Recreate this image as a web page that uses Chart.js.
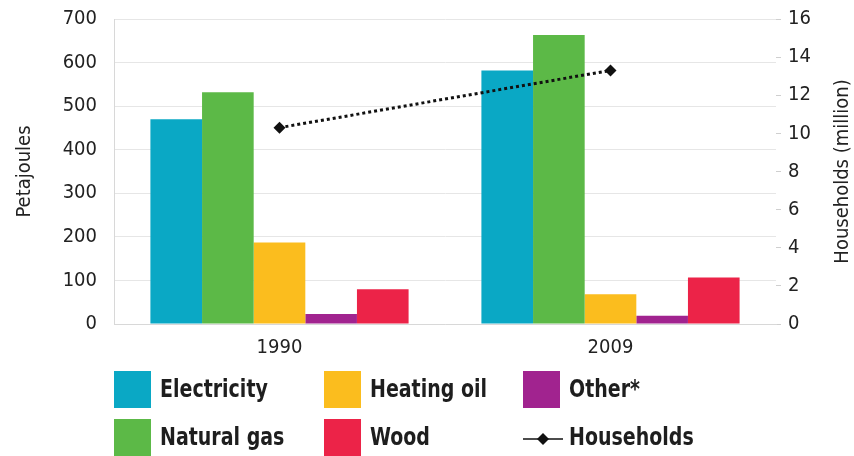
<!DOCTYPE html>
<html>
<head>
<meta charset="utf-8">
<script src="https://cdn.jsdelivr.net/npm/chart.js@4.4.1/dist/chart.umd.min.js"></script>
<style>
  html, body { margin: 0; padding: 0; background: #fff; }
  #wrap { position: relative; width: 854px; height: 456px; overflow: hidden; }
  #c { position: absolute; left: 0; top: 0; }
  .lg-item { position: absolute; height: 38px; }
  .lg-swatch { position: absolute; left: 0; top: 0; width: 37px; height: 37px; }
  .lg-line { position: absolute; left: 0; top: 0; width: 40px; height: 37px; }
  .lg-text {
    position: absolute; left: 46px; top: 0; line-height: 37px; white-space: nowrap;
    font-family: 'Liberation Sans Narrow', 'DejaVu Sans Condensed', 'Liberation Sans', sans-serif;
    font-weight: bold; font-size: 24px; color: #1e1e1e;
    transform: scaleX(0.88); transform-origin: 0 50%;
  }
</style>
</head>
<body>
<div id="wrap">
  <canvas id="c" width="854" height="456"></canvas>
  <div id="legend"></div>
</div>
<script>
// Household energy use by source (petajoules) and number of households (million)
const years = ['1990', '2009'];
const electricity = [470, 582];
const naturalGas = [532, 663];
const heatingOil = [187, 68];
const other = [23, 19];
const wood = [80, 107];
const households = [10.3, 13.3];

const energyTicks = [0, 100, 200, 300, 400, 500, 600, 700];
const householdTicks = [0, 2, 4, 6, 8, 10, 12, 14, 16];

const seriesNames = ['Electricity', 'Natural gas', 'Heating oil', 'Other*', 'Wood'];
const seriesValues = [electricity, naturalGas, heatingOil, other, wood];
const seriesColors = ['#0aa8c5', '#5cb947', '#fbbd1e', '#a1238f', '#ec2348'];

const FONT = "'Liberation Sans Narrow', 'DejaVu Sans Condensed', 'Liberation Sans', sans-serif";
const rightTitle = 'Households (million)';

const barSets = seriesNames.map((name, i) => ({
  type: 'bar',
  label: name,
  data: seriesValues[i],
  backgroundColor: seriesColors[i],
  borderWidth: 0,
  yAxisID: 'y',
  order: 1,
  categoryPercentage: 0.78,
  barPercentage: 1.0
}));

const lineSet = {
  type: 'line',
  label: 'Households',
  data: households,
  yAxisID: 'y1',
  borderColor: '#111',
  borderWidth: 3,
  borderDash: [3, 3],
  borderCapStyle: 'butt',
  pointStyle: 'rectRot',
  pointRadius: 6,
  pointBackgroundColor: '#111',
  pointBorderWidth: 0,
  fill: false,
  order: 0
};

// Right axis title, read bottom-to-top like the left one
const rightTitlePlugin = {
  id: 'rightTitle',
  afterDraw(chart) {
    const s = chart.scales.y1;
    const ctx = chart.ctx;
    ctx.save();
    ctx.translate(s.right - 11, (s.top + s.bottom) / 2);
    ctx.rotate(-Math.PI / 2);
    ctx.font = '20px ' + FONT;
    ctx.fillStyle = '#222';
    ctx.textAlign = 'center';
    ctx.textBaseline = 'middle';
    ctx.fillText(rightTitle, 0, 0);
    ctx.restore();
  }
};

new Chart(document.getElementById('c'), {
  data: { labels: years, datasets: [...barSets, lineSet] },
  plugins: [rightTitlePlugin],
  options: {
    responsive: false,
    animation: false,
    devicePixelRatio: 1,
    layout: { padding: { left: 0, right: 0, top: 19, bottom: 92 } },
    plugins: { legend: { display: false }, tooltip: { enabled: false } },
    scales: {
      x: {
        offset: true,
        grid: { display: false },
        border: { display: true, color: '#d8d8d8', width: 1 },
        ticks: { color: '#222', font: { family: FONT, size: 20 }, padding: 4 },
        afterFit: s => { s.height = 40; }
      },
      y: {
        position: 'left',
        min: 0, max: 700,
        afterBuildTicks: s => { s.ticks = energyTicks.map(v => ({ value: v })); },
        grid: { color: '#e6e6e6', drawTicks: true, tickLength: 10, tickColor: 'rgba(0,0,0,0)' },
        border: { display: true, color: '#d8d8d8' },
        ticks: { color: '#222', font: { family: FONT, size: 20 }, padding: 7 },
        title: {
          display: true, text: 'Petajoules', color: '#222',
          font: { family: FONT, size: 20 }, padding: { top: 13, bottom: 0 }
        },
        afterFit: s => { s.width = 114; }
      },
      y1: {
        position: 'right',
        min: 0, max: 16,
        afterBuildTicks: s => { s.ticks = householdTicks.map(v => ({ value: v })); },
        grid: { drawOnChartArea: false, drawTicks: true, tickLength: 5, color: '#cfcfcf' },
        border: { display: false },
        ticks: { color: '#222', font: { family: FONT, size: 20 }, padding: 7 },
        afterFit: s => { s.width = 78; }
      }
    }
  }
});

// Legend: three columns, filled top to bottom
const legendEntries = [
  { name: seriesNames[0], color: seriesColors[0] },
  { name: seriesNames[1], color: seriesColors[1] },
  { name: seriesNames[2], color: seriesColors[2] },
  { name: seriesNames[4], color: seriesColors[4] },
  { name: seriesNames[3], color: seriesColors[3] },
  { name: 'Households', line: true }
];
const colX = [114, 324, 523];
const rowY = [371, 419];
const legend = document.getElementById('legend');
legendEntries.forEach((e, i) => {
  const item = document.createElement('div');
  item.className = 'lg-item';
  item.style.left = colX[Math.floor(i / 2)] + 'px';
  item.style.top = rowY[i % 2] + 'px';
  if (e.line) {
    const cv = document.createElement('canvas');
    cv.className = 'lg-line';
    cv.width = 40; cv.height = 37;
    const g = cv.getContext('2d');
    g.strokeStyle = '#111'; g.lineWidth = 1.5;
    g.beginPath(); g.moveTo(0, 20); g.lineTo(40, 20); g.stroke();
    g.fillStyle = '#111';
    g.beginPath(); g.moveTo(20, 14); g.lineTo(26, 20); g.lineTo(20, 26); g.lineTo(14, 20); g.closePath(); g.fill();
    item.appendChild(cv);
  } else {
    const sw = document.createElement('div');
    sw.className = 'lg-swatch';
    sw.style.background = e.color;
    item.appendChild(sw);
  }
  const tx = document.createElement('div');
  tx.className = 'lg-text';
  tx.textContent = e.name;
  item.appendChild(tx);
  legend.appendChild(item);
});
</script>
</body>
</html>
